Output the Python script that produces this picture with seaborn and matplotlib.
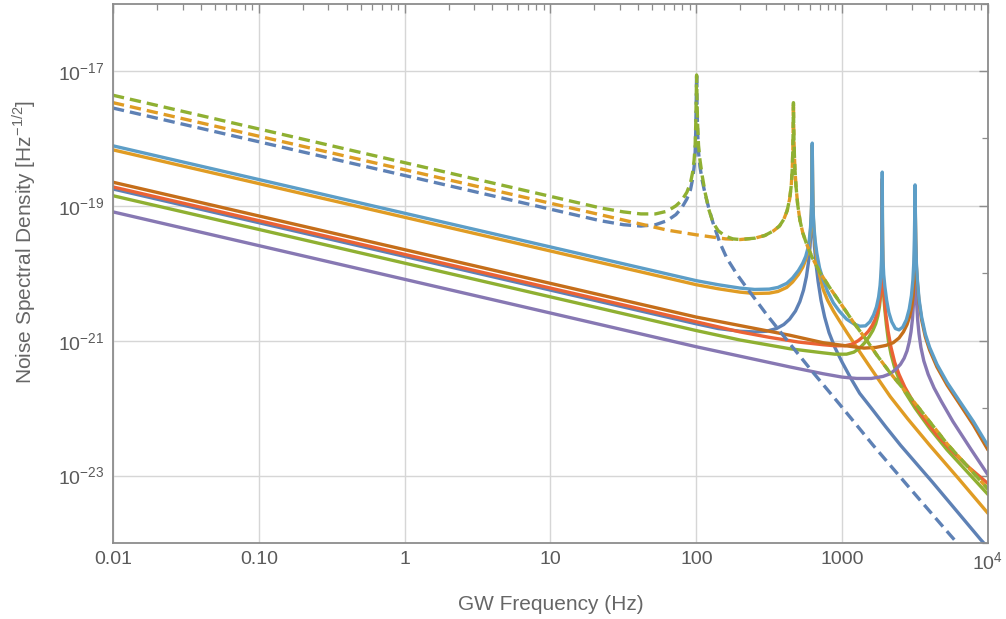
import numpy as np
import pandas as pd
import matplotlib
matplotlib.use("Agg")
import matplotlib.pyplot as plt
import seaborn as sns
from matplotlib.ticker import FixedLocator, FixedFormatter, NullFormatter

# ---- data: (log10 frequency [Hz], log10 noise spectral density [Hz^-1/2]) ----
dark_blue_solid = [(-2.0, -18.75), (2.0, -20.75), (2.15, -20.82), (2.3, -20.86), (2.4, -20.87), (2.48, -20.86),
                   (2.55, -20.82), (2.6, -20.76), (2.64, -20.68), (2.68, -20.56), (2.71, -20.42), (2.735, -20.25),
                   (2.755, -20.05), (2.77, -19.82), (2.78, -19.6), (2.786, -19.37), (2.79, -19.12), (2.793, -18.75),
                   (2.795, -18.1), (2.797, -18.75), (2.8, -19.12), (2.804, -19.37), (2.81, -19.6), (2.82, -19.85),
                   (2.835, -20.12), (2.855, -20.4), (2.88, -20.65), (2.91, -20.88), (2.95, -21.1), (3.0, -21.32),
                   (3.06, -21.56), (3.12, -21.78), (3.2, -22.0), (3.3, -22.28), (3.4, -22.55), (3.62, -23.1),
                   (3.95, -23.95), (4.0, -24.07)]

orange_solid = [(-2.0, -18.17), (2.0, -20.17), (2.15, -20.23), (2.3, -20.28), (2.4, -20.3), (2.5, -20.295),
                (2.56, -20.27), (2.62, -20.21), (2.66, -20.13), (2.7, -20.02), (2.73, -19.91), (2.75, -19.8),
                (2.765, -19.68), (2.775, -19.55), (2.783, -19.37), (2.788, -19.17), (2.791, -18.95), (2.793, -18.65),
                (2.794, -18.4), (2.795, -18.1), (2.796, -18.4), (2.797, -18.65), (2.799, -18.95), (2.802, -19.17),
                (2.807, -19.37), (2.815, -19.58), (2.826, -19.78), (2.845, -20.02), (2.87, -20.24), (2.9, -20.4),
                (2.94, -20.56), (2.98, -20.7), (3.033, -20.88), (3.1, -21.1), (3.2, -21.42), (3.33, -21.83),
                (3.45, -22.16), (3.6, -22.55), (3.8, -23.05), (4.0, -23.56)]

green_solid = [(-2.0, -18.85), (2.0, -20.85), (2.3, -20.99), (2.643, -21.12), (2.869, -21.18), (2.95, -21.2),
               (3.03, -21.2), (3.08, -21.17), (3.12, -21.11), (3.155, -21.03), (3.185, -20.94), (3.21, -20.85),
               (3.23, -20.75), (3.245, -20.63), (3.256, -20.49), (3.264, -20.32), (3.269, -20.12), (3.272, -19.85),
               (3.2735, -19.5), (3.275, -18.65), (3.2765, -19.5), (3.278, -19.85), (3.281, -20.12), (3.286, -20.35),
               (3.293, -20.55), (3.303, -20.76), (3.317, -21.0), (3.335, -21.2), (3.36, -21.4), (3.39, -21.57),
               (3.43, -21.76), (3.5, -22.0), (3.6, -22.3), (3.72, -22.62), (3.86, -22.95), (4.0, -23.28)]

red_solid = [(-2.0, -18.72), (2.0, -20.72), (2.3, -20.87), (2.5, -20.95), (2.7, -21.02), (2.87, -21.06),
             (2.95, -21.075), (3.02, -21.075), (3.07, -21.05), (3.11, -21.0), (3.15, -20.93), (3.18, -20.86),
             (3.205, -20.78), (3.225, -20.69), (3.242, -20.58), (3.255, -20.45), (3.263, -20.3), (3.268, -20.12),
             (3.271, -19.9), (3.273, -19.6), (3.2745, -19.2), (3.275, -18.6), (3.2755, -19.2), (3.277, -19.6),
             (3.279, -19.9), (3.283, -20.15), (3.29, -20.4), (3.3, -20.62), (3.315, -20.86), (3.335, -21.1),
             (3.36, -21.32), (3.39, -21.5), (3.43, -21.69), (3.48, -21.88), (3.55, -22.12), (3.65, -22.4),
             (3.75, -22.63), (3.87, -22.88), (4.0, -23.12)]

purple_solid = [(-2.0, -19.09), (2.0, -21.09), (2.643, -21.39), (2.869, -21.49), (3.0, -21.54), (3.1, -21.56),
                (3.2, -21.56), (3.28, -21.53), (3.33, -21.49), (3.37, -21.42), (3.4, -21.35), (3.425, -21.26),
                (3.445, -21.15), (3.46, -21.02), (3.472, -20.87), (3.482, -20.68), (3.489, -20.45), (3.494, -20.15),
                (3.497, -19.8), (3.499, -19.3), (3.5, -18.8), (3.501, -19.3), (3.503, -19.8), (3.506, -20.15),
                (3.511, -20.45), (3.518, -20.7), (3.527, -20.9), (3.54, -21.1), (3.56, -21.3), (3.59, -21.5),
                (3.63, -21.7), (3.68, -21.9), (3.76, -22.2), (3.88, -22.6), (4.0, -22.99)]

brown_solid = [(-2.0, -18.65), (2.0, -20.65), (2.643, -20.92), (2.869, -21.03), (3.006, -21.07), (3.15, -21.11),
               (3.23, -21.1), (3.3, -21.07), (3.35, -21.03), (3.39, -20.96), (3.42, -20.87), (3.445, -20.76),
               (3.463, -20.64), (3.477, -20.5), (3.487, -20.33), (3.493, -20.1), (3.497, -19.7), (3.499, -19.2),
               (3.5, -18.75), (3.502, -19.15), (3.505, -19.55), (3.509, -19.9), (3.516, -20.14), (3.527, -20.42),
               (3.545, -20.69), (3.57, -20.94), (3.6, -21.14), (3.65, -21.39), (3.72, -21.66), (3.8, -21.92),
               (3.9, -22.25), (4.0, -22.62)]

light_blue_solid = [(-2.0, -18.11), (2.0, -20.11), (2.15, -20.17), (2.3, -20.22), (2.4, -20.24), (2.5, -20.235),
                    (2.56, -20.21), (2.62, -20.15), (2.66, -20.07), (2.7, -19.96), (2.73, -19.85), (2.75, -19.75),
                    (2.765, -19.63), (2.775, -19.5), (2.783, -19.32), (2.788, -19.12), (2.791, -18.9),
                    (2.793, -18.6), (2.794, -18.35), (2.795, -18.07), (2.796, -18.35), (2.797, -18.6),
                    (2.799, -18.9), (2.802, -19.12), (2.807, -19.32), (2.815, -19.52), (2.826, -19.7),
                    (2.845, -19.92), (2.87, -20.1), (2.9, -20.27), (2.94, -20.44), (2.98, -20.56), (3.03, -20.68),
                    (3.08, -20.75), (3.12, -20.785), (3.16, -20.78), (3.19, -20.72), (3.215, -20.62), (3.235, -20.5),
                    (3.25, -20.35), (3.26, -20.18), (3.266, -20.0), (3.27, -19.8), (3.2725, -19.5), (3.274, -19.1),
                    (3.275, -18.5), (3.276, -19.1), (3.2775, -19.5), (3.28, -19.8), (3.285, -20.02), (3.293, -20.2),
                    (3.305, -20.4), (3.32, -20.58), (3.34, -20.72), (3.365, -20.82), (3.39, -20.84), (3.415, -20.8),
                    (3.44, -20.69), (3.46, -20.53), (3.475, -20.33), (3.485, -20.1), (3.491, -19.85), (3.495, -19.5),
                    (3.498, -19.1), (3.5, -18.69), (3.502, -19.1), (3.505, -19.5), (3.509, -19.85), (3.516, -20.1),
                    (3.527, -20.38), (3.545, -20.65), (3.57, -20.9), (3.6, -21.1), (3.65, -21.35), (3.72, -21.62),
                    (3.8, -21.88), (3.9, -22.2), (4.0, -22.56)]

blue_dashed = [(-2.0, -17.55), (1.34, -19.22), (1.5, -19.28), (1.62, -19.3), (1.72, -19.28), (1.8, -19.22),
               (1.86, -19.13), (1.9, -19.03), (1.935, -18.9), (1.96, -18.76), (1.975, -18.6), (1.985, -18.42),
               (1.992, -18.2), (1.996, -17.9), (1.999, -17.5), (2.002, -17.03), (2.005, -17.5), (2.009, -17.9),
               (2.015, -18.2), (2.025, -18.42), (2.04, -18.62), (2.06, -18.82), (2.085, -19.03), (2.114, -19.25),
               (2.162, -19.55), (2.21, -19.78), (2.28, -20.02), (2.347, -20.22), (2.485, -20.62), (2.643, -21.05),
               (2.8, -21.47), (2.985, -21.95), (3.212, -22.55), (3.445, -23.14), (3.74, -23.88), (3.85, -24.15)]

orange_dashed = [(-2.0, -17.47), (1.8, -19.36), (2.0, -19.43), (2.2, -19.49), (2.3, -19.5), (2.4, -19.48),
                 (2.47, -19.44), (2.53, -19.37), (2.57, -19.3), (2.6, -19.2), (2.623, -19.07), (2.64, -18.9),
                 (2.651, -18.7), (2.658, -18.45), (2.662, -18.15), (2.664, -17.85), (2.666, -17.47), (2.668, -17.85),
                 (2.671, -18.15), (2.676, -18.45), (2.684, -18.72), (2.695, -18.98), (2.711, -19.22), (2.73, -19.4),
                 (2.755, -19.56), (2.793, -19.76), (2.848, -19.99), (2.917, -20.22), (3.006, -20.5), (3.075, -20.72),
                 (3.17, -21.0), (3.24, -21.22), (3.33, -21.48), (3.445, -21.78), (3.534, -22.02), (3.72, -22.53),
                 (4.0, -23.2)]

green_dashed = [(-2.0, -17.36), (1.34, -19.03), (1.5, -19.09), (1.62, -19.12), (1.72, -19.12), (1.8, -19.08),
                (1.86, -19.0), (1.9, -18.92), (1.935, -18.8), (1.96, -18.66), (1.975, -18.5), (1.985, -18.32),
                (1.992, -18.1), (1.996, -17.8), (1.999, -17.45), (2.002, -17.06), (2.005, -17.45), (2.009, -17.8),
                (2.015, -18.1), (2.025, -18.32), (2.04, -18.55), (2.06, -18.8), (2.085, -19.05), (2.115, -19.25),
                (2.15, -19.37), (2.2, -19.45), (2.25, -19.49), (2.3, -19.5), (2.4, -19.48), (2.47, -19.44),
                (2.53, -19.37), (2.57, -19.3), (2.6, -19.2), (2.623, -19.07), (2.64, -18.9), (2.651, -18.7),
                (2.658, -18.45), (2.662, -18.15), (2.664, -17.85), (2.666, -17.47), (2.668, -17.85), (2.671, -18.15),
                (2.676, -18.45), (2.684, -18.72), (2.695, -18.98), (2.711, -19.22), (2.73, -19.4), (2.755, -19.56),
                (2.793, -19.76), (2.848, -19.99), (2.917, -20.22), (3.006, -20.5), (3.075, -20.72), (3.17, -21.0),
                (3.24, -21.22), (3.33, -21.48), (3.445, -21.78), (3.534, -22.02), (3.72, -22.53), (4.0, -23.2)]

x_tick_values = [1e-2, 1e-1, 1e0, 1e1, 1e2, 1e3, 1e4]
x_tick_labels = ["0.01", "0.10", "1", "10", "100", "1000", r"$\mathregular{10^{4}}$"]
y_tick_values = [1e-23, 1e-21, 1e-19, 1e-17]
y_tick_labels = [r"$\mathregular{10^{-23}}$", r"$\mathregular{10^{-21}}$",
                 r"$\mathregular{10^{-19}}$", r"$\mathregular{10^{-17}}$"]
y_minor_values = [1e-24, 1e-22, 1e-20, 1e-18, 1e-16]

# ---- style ----
sns.set_theme(style="white")
plt.rcParams["font.family"] = ["Liberation Sans", "DejaVu Sans"]
plt.rcParams["mathtext.fontset"] = "custom"
plt.rcParams["mathtext.rm"] = "Liberation Sans"
plt.rcParams["axes.unicode_minus"] = True

fig = plt.figure(figsize=(10.06, 6.19), dpi=100)
ax = fig.add_axes([0.1123, 0.1228, 0.8698, 0.8715])
ax.set_xscale("log")
ax.set_yscale("log")

dash = (0, (3.4, 1.8))
series = [
    (dark_blue_solid, "#5E81B5", "-"),
    (orange_solid, "#E09C24", "-"),
    (green_solid, "#8FB032", "-"),
    (red_solid, "#EB6235", "-"),
    (purple_solid, "#8778B3", "-"),
    (brown_solid, "#C56E1A", "-"),
    (light_blue_solid, "#5D9EC7", "-"),
    (blue_dashed, "#5E81B5", dash),
    (orange_dashed, "#E09C24", dash),
    (green_dashed, "#8FB032", dash),
]

for pts, color, ls in series:
    arr = np.array(pts, dtype=float)
    df = pd.DataFrame({"freq": 10.0 ** arr[:, 0], "noise": 10.0 ** arr[:, 1]})
    sns.lineplot(data=df, x="freq", y="noise", ax=ax, color=color, linewidth=2.4,
                 linestyle=ls, estimator=None, sort=False, legend=False)

ax.set_xlim(1e-2, 1e4)
ax.set_ylim(1e-24, 1e-16)

ax.xaxis.set_major_locator(FixedLocator(x_tick_values))
ax.xaxis.set_major_formatter(FixedFormatter(x_tick_labels))
xminor = [k * 10.0 ** n for n in range(-2, 4) for k in range(2, 10)]
ax.xaxis.set_minor_locator(FixedLocator(xminor))
ax.xaxis.set_minor_formatter(NullFormatter())

ax.yaxis.set_major_locator(FixedLocator(y_tick_values))
ax.yaxis.set_major_formatter(FixedFormatter(y_tick_labels))
ax.yaxis.set_minor_locator(FixedLocator(y_minor_values))
ax.yaxis.set_minor_formatter(NullFormatter())

ax.grid(True, which="major", color="#d6d6d6", linewidth=1.0)
ax.set_axisbelow(True)

spine_color = "#8c8c8c"
for s in ax.spines.values():
    s.set_color(spine_color)
    s.set_linewidth(1.3)

ax.tick_params(which="both", direction="in", top=True, right=True, color=spine_color,
               labelcolor="#5a5a5a", labelsize=14)
ax.tick_params(which="major", length=6.5, width=1.0)
ax.tick_params(which="minor", length=4.0, width=0.9)
ax.tick_params(axis="x", which="major", pad=6)
ax.tick_params(axis="y", which="major", pad=6)

ax.set_xlabel("GW Frequency (Hz)", fontsize=15, color="#666666")
ax.set_ylabel(r"Noise Spectral Density [Hz$^{\mathregular{-1/2}}$]", fontsize=15, color="#666666")
ax.xaxis.set_label_coords(0.5, -0.097)
ax.yaxis.set_label_coords(-0.086, 0.558)

fig.savefig("out.png", dpi=100)
